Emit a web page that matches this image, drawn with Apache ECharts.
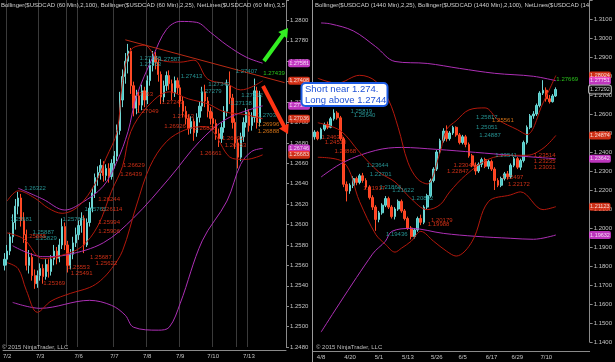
<!DOCTYPE html>
<html><head><meta charset="utf-8">
<script src="https://cdn.jsdelivr.net/npm/echarts/dist/echarts.min.js"></script>
<style>html,body{margin:0;padding:0;background:#000;}#c{width:615px;height:362px;}</style>
</head><body><div id="c"></div>
<script>
const FONT = 'Liberation Sans, Arial, sans-serif';

// ---------- LEFT PANEL (60 Min) ----------
const leftSlots = 103;
const leftTickIndex = [1,13,27,40,52,64,76,89];
const leftTickLabels = ['7/2','7/3','7/6','7/7','7/8','7/9','7/10','7/13'];
const leftSessionBreaks = [23,85];
// [open, close, low, high]
const leftOHLC = [
[1.2560,1.2566,1.2555,1.2572],[1.2566,1.2574,1.2560,1.2580],[1.2574,1.2588,1.2570,1.2592],[1.2588,1.2602,1.2582,1.2610],
[1.2602,1.2618,1.2595,1.2625],[1.2618,1.2626,1.2610,1.2632],[1.2626,1.2604,1.2598,1.2630],[1.2604,1.2590,1.2582,1.2612],
[1.2590,1.2560,1.2555,1.2595],[1.2560,1.2568,1.2552,1.2575],[1.2568,1.2550,1.2545,1.2572],[1.2550,1.2542,1.2537,1.2556],
[1.2542,1.2550,1.2538,1.2555],[1.2550,1.2557,1.2545,1.2562],[1.2557,1.2549,1.2542,1.2561],[1.2549,1.2561,1.2546,1.2566],
[1.2561,1.2554,1.2548,1.2566],[1.2554,1.2566,1.2550,1.2570],[1.2566,1.2574,1.2560,1.2580],[1.2574,1.2567,1.2561,1.2578],
[1.2567,1.2580,1.2563,1.2586],[1.2580,1.2598,1.2576,1.2606],[1.2598,1.2580,1.2575,1.2602],[1.2580,1.2560,1.2553,1.2584],
[1.2560,1.2571,1.2556,1.2576],[1.2571,1.2582,1.2566,1.2588],[1.2582,1.2590,1.2578,1.2597],[1.2590,1.2599,1.2585,1.2604],
[1.2599,1.2606,1.2592,1.2612],[1.2606,1.2580,1.2572,1.2609],[1.2580,1.2602,1.2578,1.2606],[1.2602,1.2616,1.2598,1.2622],
[1.2616,1.2631,1.2612,1.2636],[1.2631,1.2646,1.2626,1.2650],[1.2646,1.2651,1.2638,1.2657],[1.2651,1.2658,1.2644,1.2664],
[1.2658,1.2648,1.2642,1.2662],[1.2648,1.2655,1.2643,1.2659],[1.2655,1.2647,1.2641,1.2660],[1.2647,1.2660,1.2644,1.2664],
[1.2660,1.2667,1.2655,1.2672],[1.2667,1.2692,1.2662,1.2698],[1.2692,1.2722,1.2688,1.2730],[1.2722,1.2745,1.2715,1.2752],
[1.2745,1.2760,1.2738,1.2768],[1.2760,1.2770,1.2748,1.2777],[1.2770,1.2736,1.2728,1.2773],[1.2736,1.2714,1.2706,1.2740],
[1.2714,1.2726,1.2708,1.2732],[1.2726,1.2717,1.2710,1.2730],[1.2717,1.2731,1.2712,1.2737],[1.2731,1.2722,1.2715,1.2735],
[1.2722,1.2741,1.2718,1.2746],[1.2741,1.2756,1.2736,1.2762],[1.2756,1.2765,1.2750,1.2770],[1.2765,1.2759,1.2752,1.2769],
[1.2759,1.2747,1.2740,1.2762],[1.2747,1.2725,1.2718,1.2750],[1.2725,1.2736,1.2720,1.2741],[1.2736,1.2746,1.2731,1.2750],
[1.2746,1.2738,1.2732,1.2751],[1.2738,1.2729,1.2722,1.2742],[1.2729,1.2741,1.2725,1.2745],[1.2741,1.2734,1.2728,1.2744],
[1.2734,1.2721,1.2715,1.2737],[1.2721,1.2711,1.2705,1.2725],[1.2711,1.2704,1.2698,1.2716],[1.2704,1.2694,1.2688,1.2708],
[1.2694,1.2701,1.2689,1.2706],[1.2701,1.2690,1.2682,1.2704],[1.2690,1.2705,1.2686,1.2709],[1.2705,1.2716,1.2700,1.2720],
[1.2716,1.2730,1.2711,1.2735],[1.2730,1.2721,1.2715,1.2737],[1.2721,1.2711,1.2705,1.2725],[1.2711,1.2704,1.2698,1.2715],
[1.2704,1.2699,1.2693,1.2710],[1.2699,1.2689,1.2683,1.2703],[1.2689,1.2684,1.2676,1.2694],[1.2684,1.2695,1.2680,1.2700],
[1.2695,1.2711,1.2690,1.2716],[1.2711,1.2736,1.2706,1.2742],[1.2736,1.2724,1.2718,1.2750],[1.2724,1.2700,1.2694,1.2728],
[1.2700,1.2680,1.2674,1.2704],[1.2680,1.2666,1.2655,1.2684],[1.2666,1.2686,1.2662,1.2690],[1.2686,1.2700,1.2681,1.2705],
[1.2700,1.2710,1.2695,1.2714],[1.2710,1.2697,1.2691,1.2713],[1.2697,1.2705,1.2692,1.2710],[1.2705,1.2731,1.2700,1.2743],
[1.2731,1.2700,1.2694,1.2735],[1.2700,1.2727,1.2696,1.2731]
];
const leftMagUpper = [[5,1.26356],[14,1.26249],[22,1.26142],[28,1.26210],[36,1.26376],[41,1.26619],[45,1.26911],[48,1.27251],[54,1.27640],[59,1.27912],[64,1.27990],[70,1.27981],[75,1.27883],[81,1.27757],[88,1.27640],[94,1.27581]];
const leftMagMid = [[3,1.25792],[14,1.25685],[23,1.25704],[36,1.25821],[47,1.26064],[60,1.26453],[71,1.26813],[81,1.27037],[94,1.27163]];
const leftMagLower = [[3,1.25237],[13,1.25179],[31,1.25257],[39,1.25208],[44,1.25111],[47,1.24994],[56,1.24965],[60,1.24994],[64,1.25228],[72,1.25840],[81,1.26230],[86,1.26589],[90,1.26716],[94,1.26746]];
const leftRedUpper = [[1,1.2623],[5,1.2633],[11,1.2626],[16,1.2616],[21,1.2611],[27,1.2618],[33,1.2640],[37,1.2665],[41,1.2691],[43,1.2740],[46,1.2771],[51,1.27757],[56,1.27621],[64,1.27591],[69,1.27611],[74,1.27426],[81,1.27377],[86,1.27319],[90,1.27348],[94,1.27408]];
const leftRedMid = [[1,1.25918],[7,1.25860],[14,1.25665],[21,1.25700],[28,1.25780],[34,1.25986],[39,1.26327],[43,1.26570],[46,1.26910],[52,1.27154],[60,1.27300],[67,1.27231],[74,1.27183],[80,1.27105],[88,1.27076],[94,1.27036]];
const leftRedLower = [[1,1.25626],[5,1.25568],[8,1.25354],[12,1.25140],[17,1.25250],[24,1.25325],[31,1.25383],[35,1.25451],[39,1.25568],[43,1.25743],[48,1.26181],[53,1.26570],[59,1.26813],[66,1.26930],[73,1.26959],[76,1.26910],[83,1.26648],[88,1.26638],[94,1.26683]];
const leftTrend = [[44,1.27810],[102,1.27390]];
const leftCyanLabels = [[7,1.26356,'1.26322'],[2,1.26054,'1.25981'],[10,1.25928,'1.25887'],[11,1.25860,'1.25829'],[21,1.26054,'1.25764'],[29,1.26152,'1.25765'],
[49,1.27630,'1.27586'],[49,1.27572,'1.27553'],[56,1.27621,'1.27587'],[64,1.27455,'1.27413'],[74,1.27377,'1.27349'],[71,1.27309,'1.27279'],
[84,1.27504,'1.27407'],[86,1.27270,'1.27212'],[82,1.27183,'1.27138'],[92,1.27066,'1.27036']];
const leftRedLabels = [[57,1.27202,'1.27249'],[61,1.27056,'1.27013'],[58,1.26959,'1.26926'],[69,1.26940,'1.26838'],[79,1.26842,'1.26992'],[80,1.26774,'1.26953'],
[71,1.26696,'1.26661'],[43,1.26580,'1.26629'],[42,1.26492,'1.26439'],[34,1.26249,'1.26244'],[35,1.26152,'1.26114'],[34,1.26025,'1.25994'],
[34,1.25938,'1.25906'],[31,1.25675,'1.25687'],[33,1.25617,'1.25622'],[23,1.25578,'1.25553'],[24,1.25519,'1.25491'],[14,1.25422,'1.25369'],
[7,1.25889,'1.25888'],[46,1.27280,'1.27263'],[48,1.27105,'1.27049']];
const leftOrangeLabels = [[92,1.26979,'1.26996'],[92,1.26910,'1.26888']];
const leftGreenLabels = [[94,1.27484,'1.27439']];
const leftMarkers = [[1.27581,'mag'],[1.27408,'red'],[1.27163,'mag'],[1.27036,'red'],[1.26746,'mag'],[1.26683,'red']];

// ---------- RIGHT PANEL (1440 Min) ----------
const rightSlots = 86;
const rightTickIndex = [2,11,20,29,38,46,55,63,72];
const rightTickLabels = ['4/8','4/20','5/1','5/13','5/26','6/5','6/17','6/29','7/10'];
const rightOHLC = [
[1.2480,1.2505,1.2465,1.2515],[1.2505,1.2470,1.2462,1.2512],[1.2470,1.2520,1.2466,1.2528],[1.2520,1.2545,1.2510,1.2555],
[1.2545,1.2530,1.2520,1.2560],[1.2530,1.2575,1.2525,1.2585],[1.2575,1.2605,1.2565,1.2625],[1.2605,1.2580,1.2570,1.2615],
[1.2580,1.2470,1.2460,1.2590],[1.2470,1.2230,1.2215,1.2480],[1.2230,1.2195,1.2140,1.2245],[1.2195,1.2225,1.2180,1.2235],
[1.2225,1.2260,1.2210,1.2272],[1.2260,1.2240,1.2225,1.2270],[1.2240,1.2275,1.2230,1.2285],[1.2275,1.2250,1.2238,1.2290],
[1.2250,1.2215,1.2205,1.2262],[1.2215,1.2160,1.2150,1.2225],[1.2160,1.2110,1.2095,1.2172],[1.2110,1.2045,1.1985,1.2120],
[1.2045,1.2080,1.2030,1.2090],[1.2080,1.2120,1.2070,1.2130],[1.2120,1.2155,1.2110,1.2168],[1.2155,1.2110,1.2100,1.2165],
[1.2110,1.2060,1.2050,1.2120],[1.2060,1.2100,1.2045,1.2110],[1.2100,1.2140,1.2090,1.2150],[1.2140,1.2090,1.2080,1.2150],
[1.2090,1.2050,1.2040,1.2100],[1.2050,1.2000,1.1990,1.2060],[1.2000,1.1955,1.1940,1.2010],[1.1955,1.1990,1.1945,1.2000],
[1.1990,1.2050,1.1980,1.2060],[1.2050,1.2030,1.2015,1.2070],[1.2030,1.2110,1.2020,1.2120],[1.2110,1.2170,1.2100,1.2180],
[1.2170,1.2250,1.2160,1.2260],[1.2250,1.2310,1.2240,1.2320],[1.2310,1.2400,1.2300,1.2410],[1.2400,1.2460,1.2390,1.2470],
[1.2460,1.2510,1.2450,1.2525],[1.2510,1.2470,1.2455,1.2540],[1.2470,1.2500,1.2460,1.2510],[1.2500,1.2530,1.2490,1.2538],
[1.2530,1.2490,1.2480,1.2535],[1.2490,1.2450,1.2440,1.2500],[1.2450,1.2480,1.2440,1.2490],[1.2480,1.2440,1.2425,1.2490],
[1.2440,1.2380,1.2370,1.2450],[1.2380,1.2330,1.2320,1.2390],[1.2330,1.2300,1.2280,1.2345],[1.2300,1.2335,1.2290,1.2345],
[1.2335,1.2360,1.2320,1.2370],[1.2360,1.2325,1.2315,1.2370],[1.2325,1.2350,1.2310,1.2360],[1.2350,1.2310,1.2300,1.2360],
[1.2310,1.2250,1.2200,1.2320],[1.2250,1.2225,1.2215,1.2262],[1.2225,1.2260,1.2215,1.2270],[1.2260,1.2285,1.2250,1.2295],
[1.2285,1.2270,1.2255,1.2300],[1.2270,1.2330,1.2260,1.2340],[1.2330,1.2365,1.2320,1.2375],[1.2365,1.2320,1.2310,1.2375],
[1.2320,1.2355,1.2305,1.2365],[1.2355,1.2450,1.2345,1.2460],[1.2450,1.2530,1.2440,1.2540],[1.2530,1.2590,1.2520,1.2600],
[1.2590,1.2600,1.2575,1.2615],[1.2600,1.2645,1.2590,1.2655],[1.2645,1.2710,1.2635,1.2720],[1.2710,1.2725,1.2700,1.2778],
[1.2725,1.2680,1.2665,1.2740],[1.2680,1.2665,1.2655,1.2700],[1.2665,1.2695,1.2660,1.2705],[1.2695,1.2729,1.2690,1.2740]
];
const rightMagUpper = [[2,1.30792],[5,1.30740],[12,1.30376],[19,1.29544],[25,1.28764],[35,1.28661],[45,1.28401],[56,1.28141],[68,1.27985],[75,1.27751]];
const rightMagMid = [[2,1.22682],[9,1.23462],[19,1.24085],[27,1.24241],[38,1.24137],[50,1.23981],[61,1.23826],[75,1.23642]];
const rightMagLower = [[2,1.14519],[18,1.18627],[22,1.19302],[24,1.19822],[30,1.19978],[40,1.19718],[50,1.19562],[61,1.19458],[68,1.19406],[75,1.19632]];
const rightRedUpper = [[1,1.27881],[7,1.27621],[14,1.28037],[19,1.27725],[23,1.26737],[26,1.25281],[29,1.23462],[32,1.22578],[35,1.22318],[39,1.23981],[41,1.25177],[44,1.25645],[48,1.26217],[53,1.26321],[57,1.25697],[63,1.25177],[66,1.24917],[71,1.26581],[75,1.28024]];
const rightRedMid = [[1,1.25541],[8,1.25125],[14,1.23981],[20,1.22942],[25,1.22422],[30,1.21538],[35,1.20966],[39,1.21226],[42,1.21902],[47,1.22786],[54,1.23618],[61,1.23826],[66,1.23826],[71,1.24189],[75,1.24874]];
const rightRedLower = [[1,1.23722],[9,1.23462],[14,1.21382],[19,1.19666],[22,1.19146],[25,1.18731],[27,1.18939],[30,1.19302],[33,1.19822],[37,1.19302],[41,1.18782],[44,1.18523],[49,1.19302],[54,1.21382],[61,1.21746],[64,1.21902],[71,1.20966],[75,1.21123]];
const rightCyanLabels = [[11,1.26165,'1.25819'],[12,1.25905,'1.25640'],[16,1.23306,'1.23644'],[17,1.22838,'1.22701'],[20,1.22162,'1.21864'],[24,1.22006,'1.21622'],
[30,1.21538,'1.20892'],[22,1.19666,'1.19436'],[50,1.25801,'1.25817'],[50,1.25281,'1.25051'],[51,1.24865,'1.24887'],[56,1.23826,'1.23541']];
const rightRedLabels = [[2,1.24761,'1.24634'],[3,1.24501,'1.24510'],[6,1.24034,'1.23868'],[15,1.22110,'1.21917'],[36,1.20394,'1.20179'],[35,1.20186,'1.19988'],
[43,1.23306,'1.23043'],[41,1.22994,'1.22847'],[68,1.23826,'1.23514'],[68,1.23514,'1.23235'],[68,1.23202,'1.23031'],[58,1.22682,'1.22497'],[60,1.22318,'1.22172']];
const rightOrangeLabels = [[55,1.25645,'1.25561']];
const rightGreenLabels = [[75,1.27829,'1.27669']];
const rightMarkers = [[1.28024,'red'],[1.27751,'mag'],[1.27292,'cur'],[1.24874,'red'],[1.23642,'mag'],[1.21123,'red'],[1.19632,'mag']];

// ---------- helpers ----------
const cats = n => Array.from({length:n}, (_, k) => String(k));
const MAG = '#ad2fb5', DRED = '#b3180c', CYAN = '#2fb5b5', RED = '#ff3b1c', ORANGE = '#ff8a1a', GREEN = '#33ee22';
function band(gi, data, color) {
  return {type:'line', xAxisIndex:gi, yAxisIndex:gi, data, smooth:0.35, symbol:'none', silent:true,
    lineStyle:{color, width:1}, z:3, animation:false};
}
function labels(gi, data, color) {
  return {type:'scatter', xAxisIndex:gi, yAxisIndex:gi, data, symbolSize:1, silent:true, z:6,
    itemStyle:{color:'rgba(0,0,0,0)'},
    label:{show:true, position:'right', distance:0, color, fontSize:6, fontFamily:FONT, formatter:p=>p.data[2]}};
}
const MSTYLE = {mag:{bg:'#ee44ee', c:'#fff', b:'#ee44ee', w:0}, red:{bg:'#ff3a1a', c:'#fff', b:'#ff3a1a', w:0}, cur:{bg:'#000', c:'#fff', b:'#dddddd', w:1}};
function markerSeries(gi, lastIdx, list, dist) {
  return {type:'scatter', xAxisIndex:gi, yAxisIndex:gi, symbolSize:1, silent:true, z:30, clip:false,
    itemStyle:{color:'rgba(0,0,0,0)'},
    data: list.map(m => ({value:[lastIdx, m[0]], label:{show:true, position:'right', distance:dist,
      formatter:m[0].toFixed(5), color:MSTYLE[m[1]].c, backgroundColor:MSTYLE[m[1]].bg,
      borderColor:MSTYLE[m[1]].b, borderWidth:MSTYLE[m[1]].w, padding:[1,1,1,1], borderRadius:2,
      fontSize:5.5, fontFamily:FONT}}))};
}
function xAx(gi, n, idx, lab, offset, split, extra) {
  const splitIdx = idx.concat(extra);
  return {type:'category', gridIndex:gi, data:cats(n), boundaryGap:true, offset,
    axisLine:{lineStyle:{color:'#8a8a8a'}},
    axisTick:{interval:0, length:2, lineStyle:{color:'#8a8a8a'}},
    axisLabel:{interval:(k)=>idx.includes(k), formatter:(v)=>{const j=idx.indexOf(Number(v)); return j>=0?lab[j]:'';},
      color:'#c4c4c4', fontSize:6, fontFamily:FONT, margin:3},
    splitLine:{show:split, interval:(k)=>splitIdx.includes(k), lineStyle:{color:'#3a3a3a', width:1}}};
}
function yAx(gi, min, max, step, hideAbove) {
  return {type:'value', gridIndex:gi, position:'right', min, max, interval:step, scale:true,
    axisLine:{show:true, lineStyle:{color:'#8a8a8a'}},
    axisTick:{show:true, length:3, lineStyle:{color:'#8a8a8a'}},
    axisLabel:{color:'#c4c4c4', fontSize:6, fontFamily:FONT, margin:4, formatter:v=>v>hideAbove?'':v.toFixed(4)},
    splitLine:{show:false}};
}
function arrow(x1,y1,x2,y2,color) {
  const w=4, hw=5.5, hl=9;
  const dx=x2-x1, dy=y2-y1, L=Math.hypot(dx,dy), ux=dx/L, uy=dy/L, px=-uy, py=ux;
  const bx=x2-ux*hl, by=y2-uy*hl;
  return {type:'polygon', z:50, shape:{points:[[x1+px*w/2,y1+py*w/2],[bx+px*w/2,by+py*w/2],[bx+px*hw,by+py*hw],[x2,y2],
    [bx-px*hw,by-py*hw],[bx-px*w/2,by-py*w/2],[x1-px*w/2,y1-py*w/2]]}, style:{fill:color}};
}
const candleStyle = {color:'#44c6c4', color0:'#ff4020', borderColor:'#6fd6d4', borderColor0:'#ff4a26', borderWidth:1};

const option = {
  backgroundColor:'#000',
  animation:false,
  grid:[
    {left:0, right:329, top:-2.5625, bottom:15},
    {left:313, right:24, top:-4.235, bottom:20}
  ],
  xAxis:[xAx(0,leftSlots,leftTickIndex,leftTickLabels,3,true,leftSessionBreaks), xAx(1,rightSlots,rightTickIndex,rightTickLabels,9,false,[])],
  yAxis:[yAx(0,1.2480,1.2820,0.002,1.2805), yAx(1,1.1400,1.3200,0.01,1.315)],
  series:[
    {type:'candlestick', xAxisIndex:0, yAxisIndex:0, data:leftOHLC, barWidth:'62%', itemStyle:candleStyle, z:2},
    band(0,leftMagUpper,MAG), band(0,leftMagMid,MAG), band(0,leftMagLower,MAG),
    band(0,leftRedUpper,DRED), band(0,leftRedMid,DRED), band(0,leftRedLower,DRED),
    {type:'line', xAxisIndex:0, yAxisIndex:0, data:leftTrend, symbol:'none', silent:true, lineStyle:{color:'#b82a14', width:1}, z:4},
    labels(0,leftCyanLabels,CYAN), labels(0,leftRedLabels,RED), labels(0,leftOrangeLabels,ORANGE), labels(0,leftGreenLabels,GREEN),
    markerSeries(0, leftSlots-1, leftMarkers, 3),
    {type:'candlestick', xAxisIndex:1, yAxisIndex:1, data:rightOHLC, barWidth:'72%', itemStyle:candleStyle, z:2},
    band(1,rightMagUpper,MAG), band(1,rightMagMid,MAG), band(1,rightMagLower,MAG),
    band(1,rightRedUpper,DRED), band(1,rightRedMid,DRED), band(1,rightRedLower,DRED),
    labels(1,rightCyanLabels,CYAN), labels(1,rightRedLabels,RED), labels(1,rightOrangeLabels,ORANGE), labels(1,rightGreenLabels,GREEN),
    markerSeries(1, rightSlots-1, rightMarkers, 0.5)
  ],
  graphic:[
    {type:'line', shape:{x1:312.5,y1:0,x2:312.5,y2:362}, style:{stroke:'#9a9a9a', lineWidth:1}, z:40},
    {type:'text', left:1, top:2, z:40, style:{text:'Bollinger($USDCAD (60 Min),2,100), Bollinger($USDCAD (60 Min),2,25), NetLines($USDCAD (60 Min),3,5,Color [Lime],Color [Red])',
      fill:'#cfcfcf', fontSize:6, fontFamily:FONT, width:286, overflow:'truncate', ellipsis:''}},
    {type:'text', left:315, top:2, z:40, style:{text:'Bollinger($USDCAD (1440 Min),2,25), Bollinger($USDCAD (1440 Min),2,100), NetLines($USDCAD (1440 Min),3,5,Color [Lime],Color [Red])',
      fill:'#cfcfcf', fontSize:6, fontFamily:FONT, width:276, overflow:'truncate', ellipsis:''}},
    {type:'text', left:2, top:344, z:40, style:{text:'© 2015 NinjaTrader, LLC', fill:'#bdbdbd', fontSize:6, fontFamily:FONT}},
    {type:'text', left:316, top:344, z:40, style:{text:'© 2015 NinjaTrader, LLC', fill:'#bdbdbd', fontSize:6, fontFamily:FONT}},
    arrow(264,61,288,28,GREEN),
    arrow(263,86,288,134,'#ff3414'),
    {type:'rect', z:60, shape:{x:301.5,y:83,width:86,height:23,r:4}, style:{fill:'#fff', stroke:'#1d5be3', lineWidth:2}},
    {type:'text', z:61, left:305, top:84.5, style:{text:'Short near 1.274.', fill:'#1f52d8', fontSize:9.5, fontFamily:FONT}},
    {type:'text', z:61, left:305, top:95, style:{text:'Long above 1.2744.', fill:'#1f52d8', fontSize:9.5, fontFamily:FONT}}
  ]
};
echarts.init(document.getElementById('c'), null, {renderer:'canvas'}).setOption(option);
</script></body></html>
